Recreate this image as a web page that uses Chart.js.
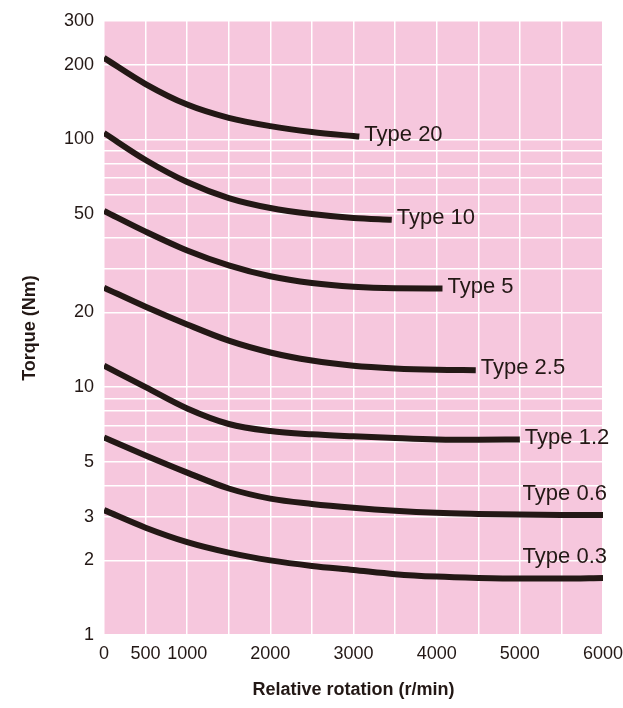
<!DOCTYPE html>
<html lang="en">
<head>
  <meta charset="UTF-8">
  <title>Torque vs relative rotation</title>
  <style>
    body { margin: 0; background: #fff; }
    .chart-container { width: 623px; height: 708px; }
  </style>
</head>
<body>
  <div class="chart-container">
    <canvas id="torqueChart"></canvas>
  </div>

  <script src="https://cdn.jsdelivr.net/npm/chart.js"></script>
  <script>
    const seriesNames = ['Type 20', 'Type 10', 'Type 5', 'Type 2.5', 'Type 1.2', 'Type 0.6', 'Type 0.3'];

    const rpm20 = [0, 500, 1000, 1500, 2000, 2500, 3000, 3070];
    const torque20 = [213, 167, 138, 122, 113, 107, 103, 102.5];

    const rpm10 = [0, 500, 1000, 1500, 2000, 2500, 3000, 3460];
    const torque10 = [106, 82.5, 67.2, 57.9, 52.8, 49.9, 48.1, 47.3];

    const rpm5 = [0, 500, 1000, 1500, 2000, 2500, 3000, 3500, 4070];
    const torque5 = [51.4, 42.4, 35.6, 31.0, 28.0, 26.3, 25.4, 25.05, 25.0];

    const rpm2_5 = [0, 500, 1000, 1500, 2000, 2500, 3000, 3500, 4000, 4470];
    const torque2_5 = [25.2, 21.1, 17.9, 15.4, 13.8, 12.8, 12.2, 11.9, 11.75, 11.7];

    const rpm1_2 = [0, 500, 1000, 1500, 2000, 2500, 3000, 3500, 4000, 4500, 5000];
    const torque1_2 = [12.2, 10.0, 8.2, 7.1, 6.65, 6.45, 6.33, 6.23, 6.15, 6.13, 6.15];

    const rpm0_6 = [0, 500, 1000, 1500, 2000, 2500, 3000, 3500, 4000, 4500, 5000, 5500, 6000];
    const torque0_6 = [6.26, 5.30, 4.52, 3.90, 3.55, 3.38, 3.26, 3.17, 3.11, 3.08, 3.06, 3.05, 3.05];

    const rpm0_3 = [0, 500, 1000, 1500, 2000, 2500, 3000, 3500, 4000, 4500, 5000, 5500, 6000];
    const torque0_3 = [3.19, 2.71, 2.37, 2.15, 2.00, 1.90, 1.83, 1.76, 1.72, 1.70, 1.69, 1.69, 1.70];

    // gridlines on the torque axis, and the ones that get a number
    const yGridTicks = [1, 2, 3, 4, 5, 6, 7, 8, 9, 10, 20, 30, 40, 50, 60, 70, 80, 90, 100, 200, 300];
    const yTickLabels = [1, 2, 3, 5, 10, 20, 50, 100, 200, 300];
    const xTickLabels = [0, 500, 1000, 2000, 3000, 4000, 5000, 6000];

    const ink = '#231815';
    const pink = '#f6c7dd';
    const fontFamily = '"Liberation Sans", Arial, Helvetica, sans-serif';

    const toPoints = (xs, ys) => xs.map((x, i) => ({ x: x, y: ys[i] }));

    const allX = [rpm20, rpm10, rpm5, rpm2_5, rpm1_2, rpm0_6, rpm0_3];
    const allY = [torque20, torque10, torque5, torque2_5, torque1_2, torque0_6, torque0_3];

    const datasets = seriesNames.map((name, i) => ({
      label: name,
      data: toPoints(allX[i], allY[i]),
      borderColor: ink,
      borderWidth: 6,
      pointRadius: 0,
      fill: false,
      cubicInterpolationMode: 'monotone',
      clip: 0
    }));

    const plotBackground = {
      id: 'plotBackground',
      beforeDraw(chart) {
        const { ctx, chartArea: a } = chart;
        ctx.save();
        ctx.fillStyle = pink;
        ctx.fillRect(a.left, a.top, a.right - a.left, a.bottom - a.top);
        ctx.restore();
      }
    };

    // "Type xx" names next to the end of each curve
    const endLabels = {
      id: 'endLabels',
      afterDatasetsDraw(chart) {
        const ctx = chart.ctx;
        ctx.save();
        ctx.font = '22px ' + fontFamily;
        ctx.fillStyle = ink;
        ctx.textBaseline = 'middle';
        chart.data.datasets.forEach((ds, i) => {
          const pts = chart.getDatasetMeta(i).data;
          const last = pts[pts.length - 1];
          const lastX = ds.data[ds.data.length - 1].x;
          if (lastX >= 6000) {
            ctx.textAlign = 'right';
            ctx.fillText(ds.label, last.x + 4, last.y - 21);
          } else {
            ctx.textAlign = 'left';
            ctx.fillText(ds.label, last.x + 5, last.y - 2);
          }
        });
        ctx.restore();
      }
    };

    const ctx = document.getElementById('torqueChart').getContext('2d');

    new Chart(ctx, {
      type: 'line',
      data: { datasets: datasets },
      options: {
        responsive: true,
        maintainAspectRatio: false,
        animation: false,
        layout: { padding: { top: 21, right: 20, left: 0, bottom: 0 } },
        plugins: {
          legend: { display: false },
          tooltip: { enabled: false }
        },
        scales: {
          x: {
            type: 'linear',
            min: 0,
            max: 6000,
            afterFit: (s) => { s.height = 73; s.paddingLeft = 0; s.paddingRight = 0; },
            border: { display: false },
            grid: { color: '#ffffff', lineWidth: 1.5, drawTicks: false },
            ticks: {
              stepSize: 500,
              autoSkip: false,
              maxRotation: 0,
              padding: 8,
              color: ink,
              font: { size: 18, family: fontFamily },
              callback: (v) => xTickLabels.includes(v) ? String(v) : ''
            },
            title: {
              display: true,
              text: 'Relative rotation (r/min)',
              color: ink,
              font: { size: 18, weight: 'bold', family: fontFamily },
              padding: { top: 0, bottom: 7 }
            }
          },
          y: {
            type: 'logarithmic',
            min: 1,
            max: 300,
            afterBuildTicks: (s) => { s.ticks = yGridTicks.map(v => ({ value: v })); },
            afterFit: (s) => { s.width = 104; s.paddingTop = 0; s.paddingBottom = 0; },
            border: { display: false },
            grid: { color: '#ffffff', lineWidth: 1.5, drawTicks: false },
            ticks: {
              autoSkip: false,
              padding: 10,
              color: ink,
              font: { size: 18, family: fontFamily },
              callback: (v) => yTickLabels.includes(v) ? String(v) : ''
            },
            title: {
              display: true,
              text: 'Torque (Nm)',
              color: ink,
              font: { size: 18, weight: 'bold', family: fontFamily },
              padding: { top: 19, bottom: 0 }
            }
          }
        }
      },
      plugins: [plotBackground, endLabels]
    });
  </script>
</body>
</html>
